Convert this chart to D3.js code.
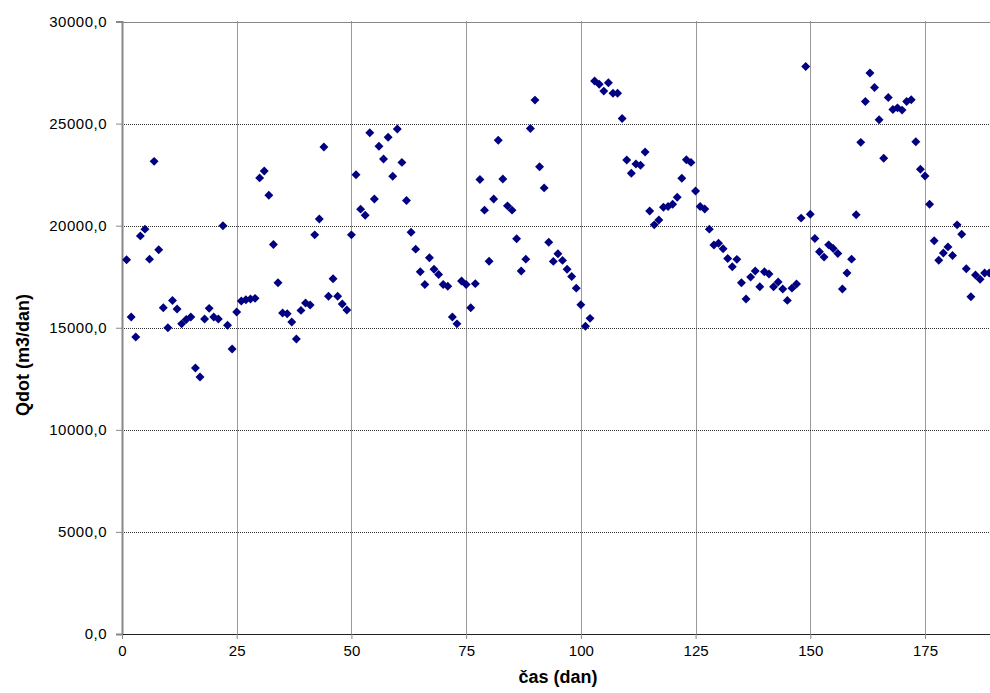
<!DOCTYPE html>
<html>
<head>
<meta charset="utf-8">
<script src="https://cdn.jsdelivr.net/npm/d3@7"></script>
<style>
  body { margin: 0; background: #fff; }
  svg { display: block; font-family: "Liberation Sans", Arial, sans-serif; }
</style>
</head>
<body>
<div id="chart"></div>
<script>
// Qdot per day (day 1..189)
var qdot = [
  18330, 15530, 14550, 19500, 19830, 18360, 23150, 18820, 15980, 15000,
  16330, 15920, 15190, 15400, 15530, 13030, 12590, 15430, 15950, 15530,
  15430, 20000, 15120, 13960, 15770, 16310, 16370, 16410, 16440, 22340,
  22680, 21490, 19080, 17200, 15720, 15690, 15280, 14450, 15850, 16210,
  16110, 19550, 20330, 23850, 16540, 17400, 16540, 16160, 15870, 19550,
  22490, 20810, 20510, 24550, 21310, 23890, 23270, 24330, 22420, 24730,
  23100, 21230, 19680, 18850, 17740, 17120, 18430, 17870, 17610, 17120,
  17030, 15530, 15190, 17290, 17120, 15980, 17160, 22260, 20760, 18260,
  21310, 24180, 22290, 20970, 20760, 19360, 17780, 18360, 24760, 26150,
  22890, 21850, 19190, 18250, 18620, 18300, 17870, 17510, 16940, 16130,
  15070, 15460, 27090, 26930, 26590, 27000, 26490, 26490, 25250, 23220,
  22570, 23020, 22960, 23610, 20720, 20040, 20280, 20900, 20940, 21050,
  21390, 22320, 23230, 23100, 21700, 20940, 20820, 19830, 19050, 19140,
  18870, 18390, 17990, 18350, 17200, 16410, 17480, 17780, 17010, 17740,
  17630, 17010, 17240, 16900, 16340, 16940, 17140, 20370, 27800, 20560,
  19370, 18720, 18460, 19060, 18880, 18640, 16900, 17680, 18360, 20530,
  24080, 26080, 27480, 26770, 25190, 23300, 26280, 25690, 25770, 25660,
  26080, 26170, 24110, 22760, 22430, 21050, 19260, 18310, 18660, 18960,
  18540, 20040, 19580, 17890, 16520, 17580, 17380, 17680, 17680
];
var days = qdot.map(function(v, i) { return i + 1; });

var xTicks = [0, 25, 50, 75, 100, 125, 150, 175];
var yTicks = [0, 5000, 10000, 15000, 20000, 25000, 30000];

var width = 990, height = 693;
var plotLeft = 122, plotTop = 21.5, plotBottom = 634, plotRight = width;

var svg = d3.select("#chart")
  .append("svg")
  .attr("width", width)
  .attr("height", height);

// x: 25 days every ~114.7px, plot runs off the right edge
var x = d3.scaleLinear().domain([0, 175]).range([plotLeft, 925]);
var y = d3.scaleLinear().domain([0, 30000]).range([plotBottom, plotTop]);

var fmt = d3.formatLocale({ decimal: ",", thousands: ".", grouping: [3] }).format(".1f");

// gridlines
svg.append("g")
  .selectAll("line")
  .data(yTicks.filter(function(t) { return t > 0 && t < 30000; }))
  .enter()
  .append("line")
  .attr("x1", plotLeft).attr("x2", plotRight)
  .attr("y1", function(d) { return Math.round(y(d)) + 0.5; })
  .attr("y2", function(d) { return Math.round(y(d)) + 0.5; })
  .attr("stroke", "#333")
  .attr("stroke-width", 1)
  .attr("stroke-dasharray", "1,1");

svg.append("g")
  .selectAll("line")
  .data(xTicks.filter(function(t) { return t > 0; }))
  .enter()
  .append("line")
  .attr("x1", function(d) { return Math.round(x(d)) + 0.5; })
  .attr("x2", function(d) { return Math.round(x(d)) + 0.5; })
  .attr("y1", plotTop).attr("y2", plotBottom)
  .attr("stroke", "#333")
  .attr("stroke-width", 1)
  .attr("stroke-dasharray", "1,1");

// top border of plot area
svg.append("line")
  .attr("x1", plotLeft).attr("x2", plotRight)
  .attr("y1", Math.round(y(30000)) + 0.5).attr("y2", Math.round(y(30000)) + 0.5)
  .attr("stroke", "#888").attr("stroke-width", 1);

// y axis
var yAxis = svg.append("g")
  .attr("transform", "translate(" + plotLeft + ",0)")
  .call(d3.axisLeft(y).tickValues(yTicks).tickFormat(fmt).tickSize(6).tickPadding(9));
yAxis.select(".domain").attr("stroke", "#888").attr("stroke-width", 2);
yAxis.selectAll(".tick line").attr("stroke", "#888");
yAxis.selectAll("text")
  .attr("fill", "#000")
  .style("font-size", "15px")
  .style("letter-spacing", "0.5px")
  .style("font-family", "Liberation Sans, Arial, sans-serif");

// x axis
var xAxis = svg.append("g")
  .attr("transform", "translate(0," + plotBottom + ")")
  .call(d3.axisBottom(x).tickValues(xTicks).tickFormat(d3.format("d")).tickSize(5).tickSizeOuter(0).tickPadding(6));
xAxis.select(".domain").attr("d", "M" + plotLeft + ",0.5H" + plotRight).attr("stroke", "#222");
xAxis.selectAll(".tick line").attr("stroke", "#888");
xAxis.selectAll("text")
  .attr("fill", "#000")
  .style("font-size", "15px")
  .style("font-family", "Liberation Sans, Arial, sans-serif");

// markers
var diamond = d3.symbol().type(d3.symbolSquare).size(40);
svg.append("g")
  .selectAll("path")
  .data(qdot)
  .enter()
  .append("path")
  .attr("d", diamond)
  .attr("transform", function(d, i) {
    return "translate(" + x(days[i]) + "," + y(d) + ") rotate(45)";
  })
  .attr("fill", "#000080");

// axis titles
svg.append("text")
  .attr("x", 558)
  .attr("y", 683)
  .attr("text-anchor", "middle")
  .style("font-size", "18px")
  .style("font-weight", "bold")
  .text("čas (dan)");

svg.append("text")
  .attr("transform", "translate(29,355) rotate(-90)")
  .attr("text-anchor", "middle")
  .style("font-size", "18px")
  .style("font-weight", "bold")
  .text("Qdot (m3/dan)");
</script>
</body>
</html>
